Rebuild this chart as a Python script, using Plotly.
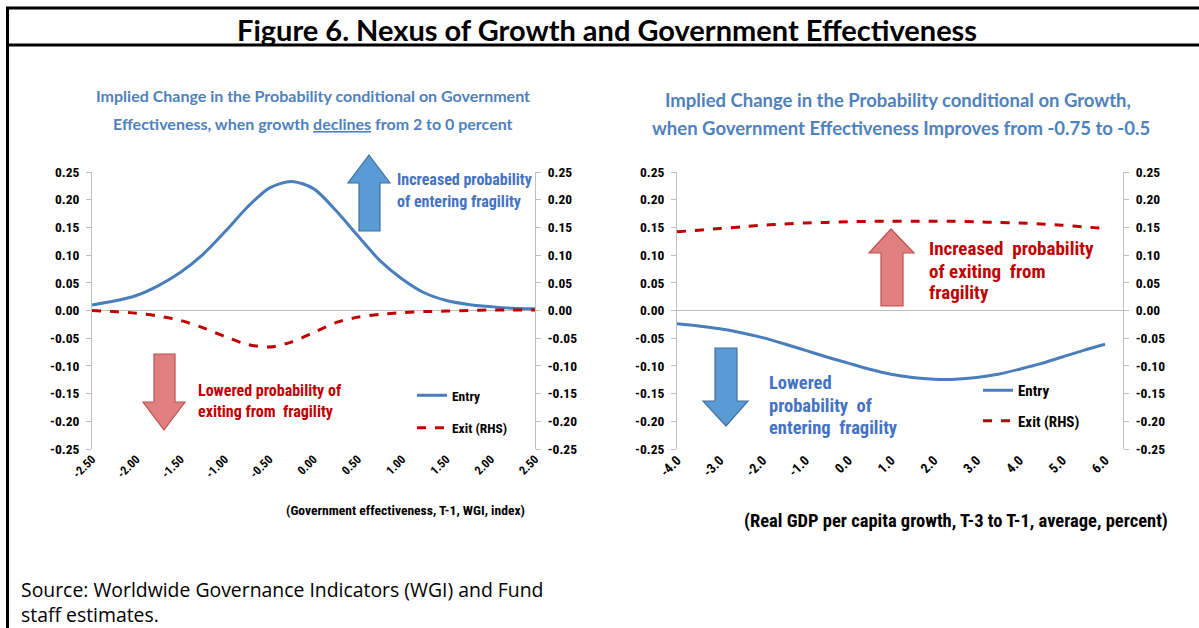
import plotly.graph_objects as go

# ---------------- data ----------------
ge_x = [-2.5, -2.25, -2.0, -1.75, -1.5, -1.25, -1.0, -0.75, -0.5, -0.25, 0.0,
        0.25, 0.5, 0.75, 1.0, 1.25, 1.5, 1.75, 2.0, 2.25, 2.5]
ge_entry = [0.010, 0.017, 0.027, 0.045, 0.069, 0.101, 0.142, 0.186, 0.221, 0.233, 0.220,
            0.181, 0.135, 0.090, 0.057, 0.032, 0.018, 0.011, 0.007, 0.004, 0.003]
ge_exit = [0.000, -0.002, -0.005, -0.010, -0.018, -0.031, -0.047, -0.061, -0.066, -0.057, -0.040,
           -0.022, -0.012, -0.007, -0.004, -0.002, -0.001, 0.000, 0.001, 0.001, 0.001]

gr_x = [-4.0, -3.5, -3.0, -2.5, -2.0, -1.5, -1.0, -0.5, 0.0, 0.5, 1.0,
        1.5, 2.0, 2.5, 3.0, 3.5, 4.0, 4.5, 5.0, 5.5, 6.0]
gr_entry = [-0.024, -0.028, -0.033, -0.040, -0.049, -0.060, -0.072, -0.084, -0.095, -0.106, -0.115,
            -0.121, -0.124, -0.124, -0.121, -0.115, -0.106, -0.096, -0.084, -0.072, -0.061]
gr_exit = [0.142, 0.145, 0.148, 0.151, 0.154, 0.156, 0.158, 0.159, 0.160, 0.161, 0.161,
           0.161, 0.161, 0.161, 0.160, 0.159, 0.158, 0.156, 0.154, 0.151, 0.148]

ge_ticks = [-2.5, -2.0, -1.5, -1.0, -0.5, 0.0, 0.5, 1.0, 1.5, 2.0, 2.5]
ge_ticktext = ["-2.50", "-2.00", "-1.50", "-1.00", "-0.50", "0.00", "0.50", "1.00", "1.50", "2.00", "2.50"]
gr_ticks = [-4, -3, -2, -1, 0, 1, 2, 3, 4, 5, 6]
gr_ticktext = ["-4.0", "-3.0", "-2.0", "-1.0", "0.0", "1.0", "2.0", "3.0", "4.0", "5.0", "6.0"]
y_ticks = [0.25, 0.20, 0.15, 0.10, 0.05, 0.0, -0.05, -0.10, -0.15, -0.20, -0.25]
y_ticktext = ["0.25", "0.20", "0.15", "0.10", "0.05", "0.00", "-0.05", "-0.10", "-0.15", "-0.20", "-0.25"]

# ---------------- helpers ----------------
W, H = 1199, 628
def px(x):
    return x / W
def py(y):
    return 1 - y / H

BLUE_LINE = "#4A7EBB"
RED_LINE = "#C00000"
AX = "#BFBFBF"
FONT = "Lato, Roboto, sans-serif"
NARROW = "Liberation Sans Narrow, Arial Narrow, Roboto Condensed, Roboto, sans-serif"

fig = go.Figure()

fig.add_trace(go.Scatter(x=ge_x, y=ge_entry, mode="lines", name="Entry",
                         line=dict(color=BLUE_LINE, width=3, shape="spline", smoothing=0.8),
                         xaxis="x", yaxis="y", legend="legend", legendgroup="a"))
fig.add_trace(go.Scatter(x=ge_x, y=ge_exit, mode="lines", name="Exit (RHS)",
                         line=dict(color=RED_LINE, width=3, dash="dash", shape="spline", smoothing=0.8),
                         xaxis="x", yaxis="y2", legend="legend", legendgroup="b"))
fig.add_trace(go.Scatter(x=gr_x, y=gr_entry, mode="lines", name="Entry",
                         line=dict(color=BLUE_LINE, width=3, shape="spline", smoothing=0.8),
                         xaxis="x2", yaxis="y3", legend="legend2", legendgroup="c"))
fig.add_trace(go.Scatter(x=gr_x, y=gr_exit, mode="lines", name="Exit (RHS)",
                         line=dict(color=RED_LINE, width=3, dash="dash", shape="spline", smoothing=0.8),
                         xaxis="x2", yaxis="y4", legend="legend2", legendgroup="d"))

ydom = [py(449), py(172)]
yax_common = dict(range=[-0.25, 0.25], tickvals=y_ticks, ticktext=y_ticktext,
                  showgrid=False, showline=True, linecolor=AX, linewidth=1,
                  ticks="outside", ticklen=5, tickcolor=AX, automargin=False,
                  tickfont=dict(family=NARROW, size=13.5, color="black", weight="bold"),
                  ticklabelstandoff=4, fixedrange=True)

fig.update_layout(
    template="none",
    width=W, height=H, margin=dict(l=0, r=0, t=0, b=0, pad=0, autoexpand=False),
    paper_bgcolor="white", plot_bgcolor="white",
    showlegend=True,
    xaxis=dict(domain=[px(92), px(535)], range=[-2.5, 2.5], anchor="y", automargin=False,
               tickvals=ge_ticks, ticktext=ge_ticktext, tickangle=-45,
               showgrid=False, zeroline=False, showline=False, ticks="",
               tickfont=dict(family=NARROW, size=12, color="black", weight="bold")),
    yaxis=dict(domain=ydom, anchor="x", side="left", zeroline=True, zerolinecolor=AX,
               zerolinewidth=1, **yax_common),
    yaxis2=dict(domain=ydom, anchor="x", overlaying="y", side="right", zeroline=False,
                **yax_common),
    xaxis2=dict(domain=[px(677), px(1123)], range=[-4, 6.42], anchor="y3", automargin=False,
                tickvals=gr_ticks, ticktext=gr_ticktext, tickangle=-45,
                showgrid=False, zeroline=False, showline=False, ticks="",
                tickfont=dict(family=NARROW, size=13.5, color="black", weight="bold")),
    yaxis3=dict(domain=ydom, anchor="x2", side="left", zeroline=True, zerolinecolor=AX,
                zerolinewidth=1, **yax_common),
    yaxis4=dict(domain=ydom, anchor="x2", overlaying="y3", side="right", zeroline=False,
                **yax_common),
    legend=dict(x=px(412), y=py(380), xanchor="left", yanchor="top",
                bgcolor="rgba(0,0,0,0)", traceorder="grouped", tracegroupgap=12,
                font=dict(family=NARROW, size=13.5, color="black", weight="bold"),
                itemwidth=30),
    legend2=dict(x=px(978), y=py(374), xanchor="left", yanchor="top",
                 bgcolor="rgba(0,0,0,0)", traceorder="grouped", tracegroupgap=8,
                 font=dict(family=NARROW, size=15, color="black", weight="bold"),
                 itemwidth=30),
)

shapes = []
# frame lines
shapes.append(dict(type="line", xref="paper", yref="paper", x0=px(6), x1=1, y0=py(8), y1=py(8),
                   line=dict(color="black", width=3)))
shapes.append(dict(type="line", xref="paper", yref="paper", x0=px(6), x1=1, y0=py(45), y1=py(45),
                   line=dict(color="black", width=3)))
shapes.append(dict(type="line", xref="paper", yref="paper", x0=px(7.5), x1=px(7.5), y0=py(7), y1=0,
                   line=dict(color="black", width=3)))

def arrow(cx, tip, hb, end, h0, h1, s0, s1, fill, outline):
    pts = [(cx, tip), (h1, hb), (s1, hb), (s1, end), (s0, end), (s0, hb), (h0, hb)]
    path = "M " + " L ".join(f"{px(x):.5f},{py(y):.5f}" for x, y in pts) + " Z"
    return dict(type="path", xref="paper", yref="paper", path=path,
                fillcolor=fill, line=dict(color=outline, width=1.2), layer="above")

BLUE_FILL, BLUE_OUT = "#5B9BD5", "#41719C"
RED_FILL, RED_OUT = "#E07F7F", "#C0504D"
shapes.append(arrow(369, 155, 183, 231, 348, 390, 359, 380, BLUE_FILL, BLUE_OUT))
shapes.append(arrow(164, 430, 402, 354, 143, 185, 154, 175, RED_FILL, RED_OUT))
shapes.append(arrow(891, 229, 253, 306, 869, 914, 881, 903, RED_FILL, RED_OUT))
shapes.append(arrow(726, 426, 401, 348, 703, 748, 715, 737, BLUE_FILL, BLUE_OUT))
fig.update_layout(shapes=shapes)

ann = []
def text(t, x, y, size, color, family=FONT, bold=True, xanchor="left", align="left"):
    ann.append(dict(text=t, x=px(x), y=py(y), xref="paper", yref="paper",
                    xanchor=xanchor, yanchor="middle", showarrow=False, align=align,
                    font=dict(family=family, size=size, color=color,
                              weight="bold" if bold else "normal")))

text("Figure 6. Nexus of Growth and Government Effectiveness", 607, 29, 29, "black", xanchor="center")
SUB = "#4F81BD"
text("Implied Change in the Probability conditional on Government", 313, 96, 16, SUB, xanchor="center")
text("Effectiveness, when growth <u>declines</u> from 2 to 0 percent", 313, 123, 16, SUB, xanchor="center")
text("Implied Change in the Probability conditional on Growth,", 898, 100, 18.5, SUB, xanchor="center")
text("when Government Effectiveness Improves from -0.75 to -0.5", 901, 128, 18.5, SUB, xanchor="center")

TXT_BLUE = "#4472C4"
TXT_RED = "#C00000"
text("Increased probability", 395, 180, 16, TXT_BLUE, family=NARROW)
text("of entering fragility", 395, 201, 16, TXT_BLUE, family=NARROW)
text("Lowered probability of", 196, 390, 16, TXT_RED, family=NARROW)
text("exiting from  fragility", 196, 411, 16, TXT_RED, family=NARROW)
text("Increased  probability", 927, 249, 19, TXT_RED, family=NARROW)
text("of exiting  from", 927, 271, 19, TXT_RED, family=NARROW)
text("fragility", 927, 293, 19, TXT_RED, family=NARROW)
text("Lowered", 767, 383, 18.5, TXT_BLUE, family=NARROW)
text("probability  of", 767, 406, 18.5, TXT_BLUE, family=NARROW)
text("entering  fragility", 767, 428, 18.5, TXT_BLUE, family=NARROW)

text("(Government effectiveness, T-1, WGI, index)", 527, 510, 13.6, "black", family=NARROW, xanchor="right")
text("(Real GDP per capita growth, T-3 to T-1, average, percent)", 1170, 521, 18.5, "black", family=NARROW, xanchor="right")

text("Source: Worldwide Governance Indicators (WGI) and Fund<br>staff estimates.", 19, 602, 19.4, "black",
     family="Open Sans, sans-serif", bold=False)

fig.update_layout(annotations=ann)

fig.write_html("out.html", config={"displayModeBar": False},
               post_script="document.body.style.margin='0px';document.body.style.overflow='hidden';")
